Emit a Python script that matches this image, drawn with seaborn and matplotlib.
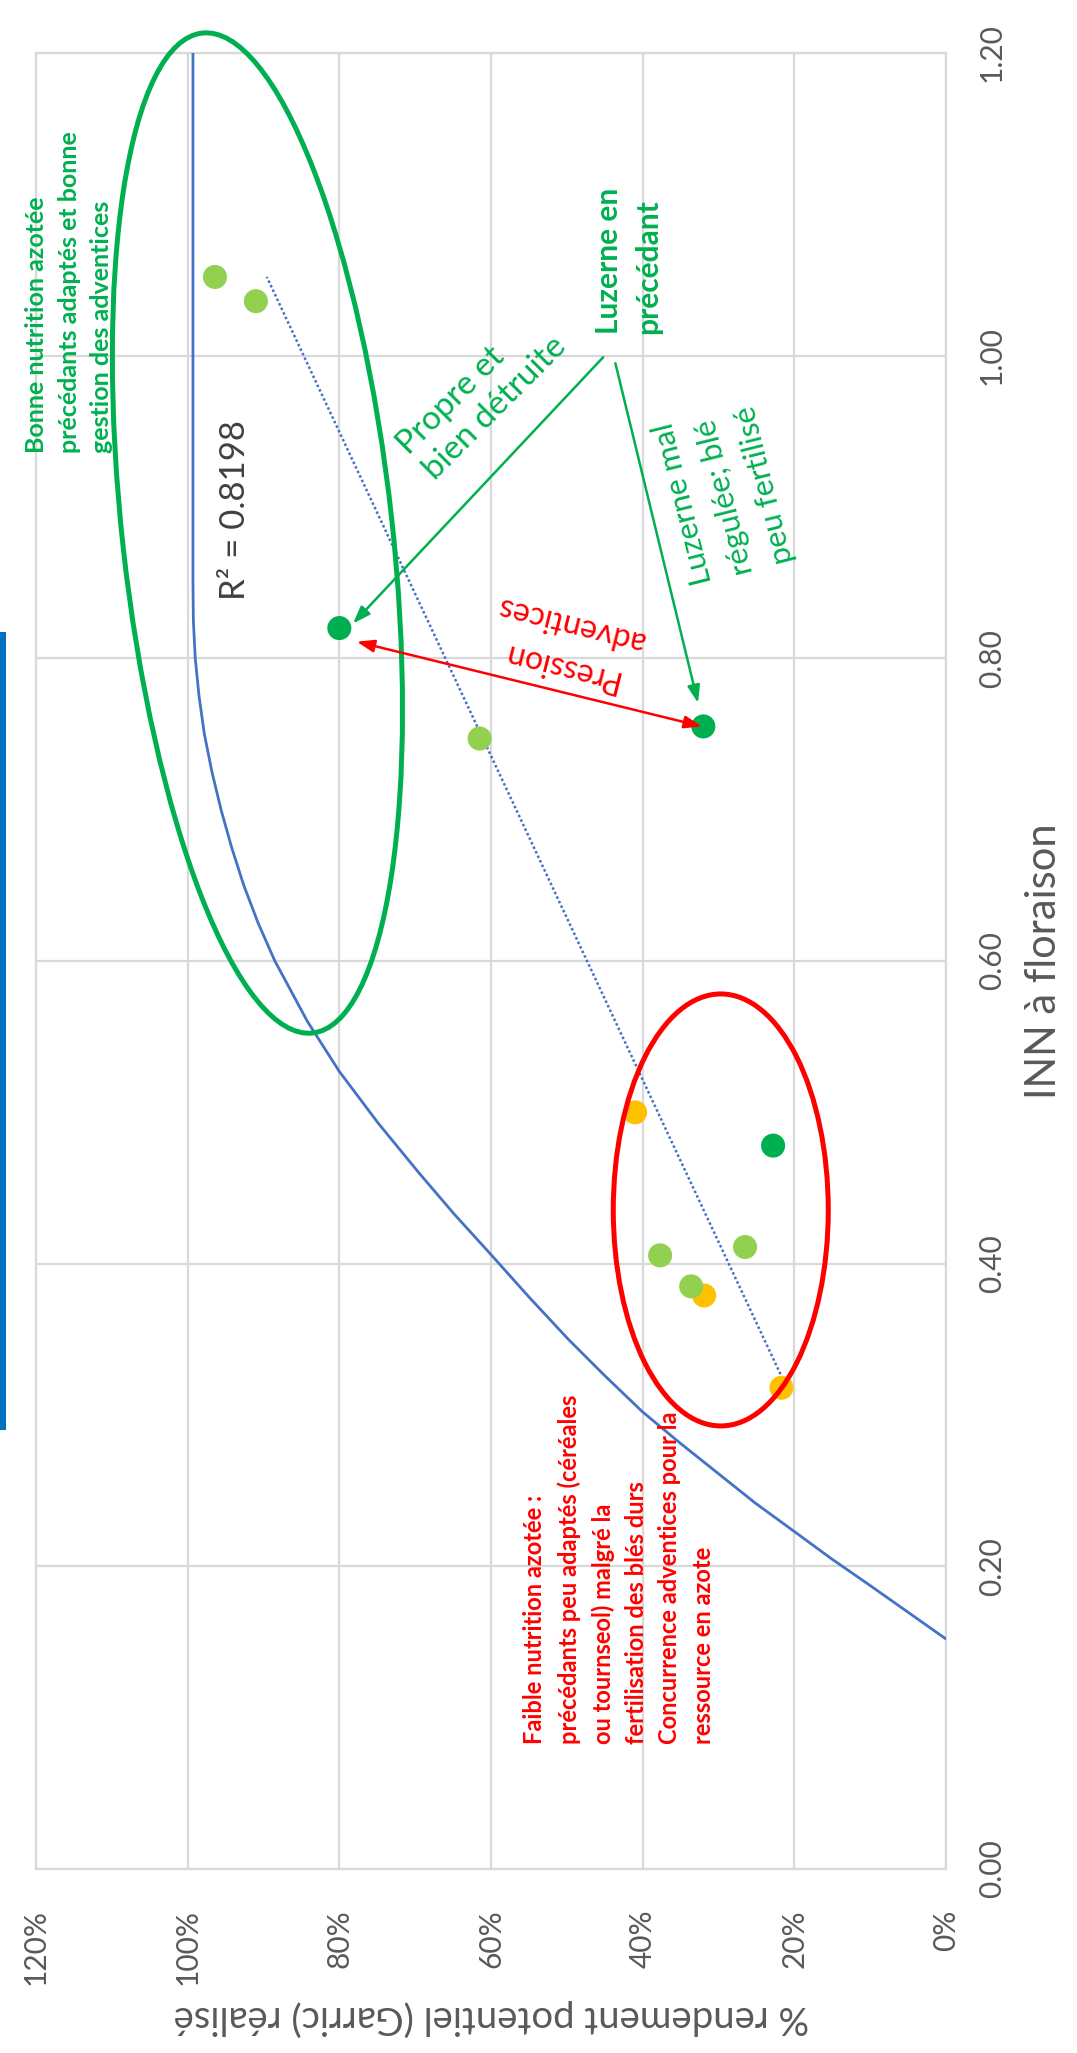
import numpy as np
import pandas as pd
import matplotlib
matplotlib.use("Agg")
import matplotlib.pyplot as plt
import seaborn as sns
from matplotlib.patches import Ellipse, Rectangle
from matplotlib.transforms import ScaledTranslation
from matplotlib.ticker import FuncFormatter

# ---------------------------------------------------------------- data
# Durum wheat plots: nitrogen nutrition index (INN) at flowering and
# share of the Garric potential yield actually reached (%)
groupe = ["jaune", "jaune", "jaune",
          "vert clair", "vert clair", "vert clair", "vert clair", "vert clair", "vert clair",
          "vert", "vert", "vert"]
inn = [0.500, 0.379, 0.318,
       1.052, 1.036, 0.747, 0.4055, 0.411, 0.385,
       0.820, 0.755, 0.478]
rendement = [41.0, 31.9, 21.7,
             96.4, 91.0, 61.5, 37.7, 26.5, 33.6,
             80.0, 32.0, 22.8]

# Reference response curve (Garric): % of potential yield vs INN
courbe_inn = [0.152, 0.170, 0.188, 0.205, 0.223, 0.242, 0.262, 0.282, 0.302, 0.326,
              0.350, 0.378, 0.406, 0.433, 0.460, 0.493, 0.527, 0.560, 0.600, 0.625,
              0.650, 0.675, 0.700, 0.725, 0.750, 0.775, 0.800, 0.825, 0.850, 1.200]
courbe_rdt = [0.0, 5.1, 10.2, 15.1, 20.0, 25.2, 30.2, 35.2, 40.0, 45.0,
              49.8, 55.0, 60.0, 64.9, 69.5, 74.9, 80.0, 84.2, 88.5, 90.7,
              92.6, 94.2, 95.6, 96.8, 97.8, 98.5, 99.0, 99.25, 99.3, 99.3]

r2_label = "R² = 0.8198"
rdt_ticks = [0, 20, 40, 60, 80, 100, 120]
inn_ticks = [0.0, 0.2, 0.4, 0.6, 0.8, 1.0, 1.2]

# ---------------------------------------------------------------- style
sns.set_theme(style="whitegrid")
plt.rcParams["font.family"] = ["Lato", "DejaVu Sans"]

VERT = "#00B050"
ROUGE = "#FF0000"
BLEU = "#4472C4"
GRIS = "#595959"
GRILLE = "#D9D9D9"
palette = {"jaune": "#FFC000", "vert clair": "#92D050", "vert": "#00B050"}

W, H = 1077, 2053
fig = plt.figure(figsize=(W / 100, H / 100), dpi=100)
fig.patch.set_facecolor("white")
ax = fig.add_axes([36 / W, (H - 1869) / H, 910 / W, 1816 / H])
ax.set_facecolor("white")

df = pd.DataFrame({"INN": inn, "rendement": rendement, "groupe": groupe})

# reference curve (yield on the horizontal axis, INN on the vertical one)
sns.lineplot(x=courbe_rdt, y=courbe_inn, sort=False, estimator=None,
             color=BLEU, lw=2.0, ax=ax, zorder=3)

# linear trend of yield against INN
pente, ordonnee = np.polyfit(inn, rendement, 1)
bornes = np.array([min(inn), max(inn)])
sns.lineplot(x=pente * bornes + ordonnee, y=bornes, sort=False, estimator=None,
             color=BLEU, lw=1.8, linestyle=(0, (1, 1)), ax=ax, zorder=3)

sns.scatterplot(data=df, x="rendement", y="INN", hue="groupe", palette=palette,
                s=300, linewidth=0, legend=False, ax=ax, zorder=4)

# ---------------------------------------------------------------- axes
ax.set_xlim(120, 0)
ax.set_ylim(0, 1.2)
ax.set_xticks(rdt_ticks)
ax.set_yticks(inn_ticks)
ax.xaxis.set_major_formatter(FuncFormatter(lambda v, p: f"{v:.0f}%"))
ax.yaxis.set_major_formatter(FuncFormatter(lambda v, p: f"{v:.2f}"))
ax.yaxis.tick_right()
ax.tick_params(axis="x", labelrotation=90, pad=29, length=0,
               labelsize=21.5, labelcolor=GRIS)
ax.tick_params(axis="y", labelrotation=90, pad=23, length=0,
               labelsize=21.5, labelcolor=GRIS)
for lbl in ax.get_yticklabels():
    lbl.set_va("center")
ax.grid(True, color=GRILLE, lw=1.6)
ax.set_axisbelow(True)
for sp in ax.spines.values():
    sp.set_visible(True)
    sp.set_color(GRILLE)
    sp.set_linewidth(1.6)

ax.set_xlabel("% rendement potentiel (Garric) réalisé", fontsize=27.5,
              color=GRIS, rotation=180)
ax.xaxis.set_label_coords(0.5, (1869 - 2018) / 1816)
ax.xaxis.label.set_va("center")
ax.xaxis.label.set_ha("center")
ax.set_ylabel("INN à floraison", fontsize=30, color=GRIS, rotation=90)
ax.yaxis.set_label_position("right")
ax.yaxis.set_label_coords((1044 - 36) / 910, 0.5)
ax.yaxis.label.set_va("center")
ax.yaxis.label.set_ha("center")

# ---------------------------------------------------------------- groups
def entoure(cx, cy, larg_in, haut_in, angle, couleur):
    trans = fig.dpi_scale_trans + ScaledTranslation(cx, cy, ax.transData)
    ax.add_patch(Ellipse((0, 0), larg_in, haut_in, angle=angle, transform=trans,
                         fill=False, ec=couleur, lw=3.6, clip_on=False, zorder=5))

entoure(90.8, 0.8828, 2.70, 10.06, 6.3, VERT)
entoure(29.7, 0.4355, 2.15, 4.32, 0.0, ROUGE)

# ---------------------------------------------------------------- arrows
fleche = dict(color=VERT, lw=1.8, shrinkA=0, shrinkB=0, mutation_scale=15)
ax.annotate("", xy=(78.2, 0.823), xytext=(45.2, 0.999),
            arrowprops=dict(arrowstyle="-|>,head_length=0.7,head_width=0.25", **fleche),
            zorder=6)
ax.annotate("", xy=(32.7, 0.7705), xytext=(43.6, 0.995),
            arrowprops=dict(arrowstyle="-|>,head_length=0.7,head_width=0.25", **fleche),
            zorder=6)
ax.annotate("", xy=(32.2, 0.755), xytext=(77.7, 0.811),
            arrowprops=dict(arrowstyle="<|-|>,head_length=0.7,head_width=0.25",
                            color=ROUGE, lw=1.8, shrinkA=0, shrinkB=0, mutation_scale=15),
            zorder=6)

# ---------------------------------------------------------------- texts
# anchored at the start of the last line, on its baseline
txt = dict(rotation_mode="anchor", ha="left", va="baseline", zorder=7)
ax.text(111.6, 0.936, "Bonne nutrition azotée\nprécédants adaptés et bonne\ngestion des adventices",
        rotation=90, color=VERT, fontsize=18, fontweight="bold", linespacing=1.5, **txt)
ax.text(32.4, 0.0826,
        "Faible nutrition azotée :\nprécédants peu adaptés (céréales\nou tournseol) malgré la\n"
        "fertilisation des blés durs\nConcurrence adventices pour la\nressource en azote",
        rotation=90, color=ROUGE, fontsize=17, fontweight="bold", linespacing=1.54, **txt)
ax.text(39.6, 1.0144, "Luzerne en\nprécédant", rotation=90, color=VERT,
        fontsize=21.5, fontweight="bold", linespacing=1.5, **txt)
ax.text(68.0, 0.920, "Propre et\nbien détruite", rotation=45, color=VERT,
        fontsize=24, linespacing=1.25, **txt)
ax.text(21.9, 0.8617, "Luzerne mal\nrégulée; blé\npeu fertilisé", rotation=104, color=VERT,
        fontsize=22.5, linespacing=1.6, **txt)
ax.text(50.2, 0.8088, "Pression\nadventices", rotation=166, rotation_mode="anchor",
        ha="center", va="center", multialignment="center", color=ROUGE,
        fontsize=23, linespacing=1.55, zorder=7)
ax.text(93.7, 0.898, r2_label, rotation=90, rotation_mode="anchor", ha="center",
        va="center", color="#404040", fontsize=25, zorder=7)

# side marker bar on the left edge
fig.add_artist(Rectangle((0, (H - 1430) / H), 6 / W, 798 / H,
                         transform=fig.transFigure, color="#0070C0", lw=0))

fig.savefig("out.png", dpi=100, facecolor="white")
